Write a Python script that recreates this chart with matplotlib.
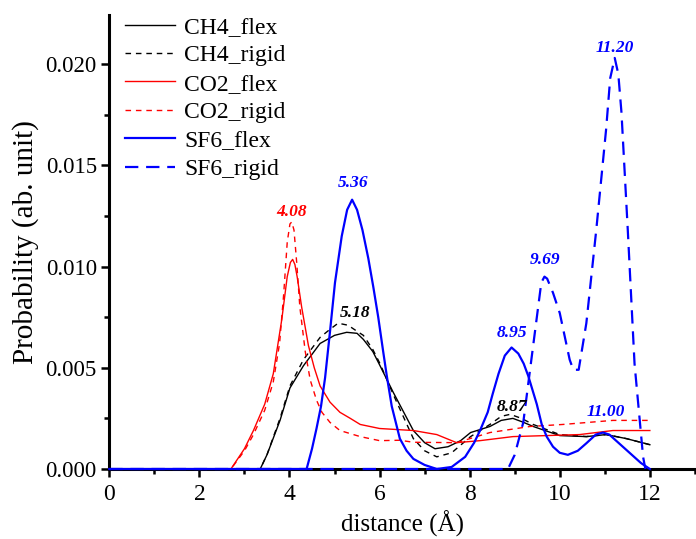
import matplotlib
matplotlib.use("Agg")
import matplotlib.pyplot as plt
from matplotlib.ticker import MultipleLocator, FormatStrFormatter

plt.rcParams['font.family'] = ['Liberation Serif', 'DejaVu Serif']

# data
ch4_flex_x = [0, 3.35, 3.5, 3.79, 4.01, 4.31, 4.68, 5.0, 5.27, 5.5, 5.64, 5.85, 6.01, 6.3,
              6.75, 7.0, 7.23, 7.52, 7.8, 8.02, 8.45, 8.7, 8.96, 9.2, 9.41, 10.0, 10.59,
              11.03, 11.48, 12.0]
ch4_flex_y = [0, 0, 0.0007, 0.0024, 0.0040, 0.0051, 0.0062, 0.0066, 0.00675, 0.0067, 0.0064,
              0.0058, 0.0051, 0.0038, 0.0019, 0.0013, 0.0010, 0.0011, 0.0014, 0.0018, 0.0021,
              0.0024, 0.0025, 0.0023, 0.0021, 0.00165, 0.0016, 0.0017, 0.0015, 0.0012]

ch4_rigid_x = [0, 3.35, 3.5, 3.79, 4.01, 4.31, 4.68, 4.9, 5.08, 5.3, 5.5, 5.64, 5.85, 6.01,
               6.3, 6.75, 7.0, 7.27, 7.6, 8.02, 8.45, 8.7, 8.9, 9.15, 9.41, 10.0, 10.59,
               11.03, 11.48, 12.0]
ch4_rigid_y = [0, 0, 0.0007, 0.0025, 0.0041, 0.0054, 0.0065, 0.0069, 0.0072, 0.0071, 0.0068,
               0.0066, 0.0059, 0.0052, 0.0037, 0.0015, 0.0009, 0.0006, 0.0008, 0.0016, 0.0022,
               0.0026, 0.0027, 0.0025, 0.0022, 0.0017, 0.0016, 0.0017, 0.0015, 0.0012]

co2_flex_x = [0, 2.7, 3.0, 3.2, 3.45, 3.64, 3.83, 3.95, 4.02, 4.07, 4.12, 4.17, 4.27, 4.42,
              4.55, 4.68, 4.9, 5.12, 5.35, 5.57, 6.0, 6.75, 7.27, 7.71, 8.23, 8.96, 9.7,
              10.44, 11.18, 12.0]
co2_flex_y = [0, 0, 0.0010, 0.0019, 0.0032, 0.0047, 0.0074, 0.0095, 0.0102, 0.01035, 0.0101,
              0.0095, 0.0080, 0.0061, 0.0050, 0.0041, 0.0033, 0.0028, 0.0025, 0.0022, 0.0020,
              0.0019, 0.0017, 0.0013, 0.0014, 0.0016, 0.00165, 0.0017, 0.0019, 0.0019]

co2_rigid_x = [0, 2.7, 3.0, 3.2, 3.45, 3.64, 3.78, 3.87, 3.95, 4.01, 4.05, 4.1, 4.16, 4.23,
               4.35, 4.46, 4.6, 4.72, 4.9, 5.12, 5.57, 6.0, 6.45, 6.75, 7.71, 8.45, 9.34,
               10.07, 11.18, 12.0]
co2_rigid_y = [0, 0, 0.0009, 0.0017, 0.0029, 0.0043, 0.0062, 0.0086, 0.0112, 0.0121, 0.0122,
               0.0118, 0.0102, 0.0080, 0.0058, 0.0044, 0.0034, 0.0028, 0.0023, 0.0019, 0.0016,
               0.0014, 0.00142, 0.00132, 0.0013, 0.0018, 0.0021, 0.0022, 0.0024, 0.0024]

sf6_flex_x = [0, 4.38, 4.5, 4.6, 4.7, 4.79, 4.9, 5.01, 5.16, 5.28, 5.39, 5.5, 5.62, 5.75,
              5.86, 5.97, 6.08, 6.16, 6.27, 6.45, 6.6, 6.75, 7.0, 7.27, 7.6, 7.9, 8.1, 8.23,
              8.4, 8.51, 8.64, 8.78, 8.93, 9.08, 9.2, 9.3, 9.49, 9.6, 9.71, 9.85, 10.0, 10.18,
              10.4, 10.59, 10.8, 10.96, 11.1, 11.25, 11.4, 11.6, 11.8, 12.0]
sf6_flex_y = [0, 0, 0.0010, 0.0020, 0.0031, 0.0045, 0.0068, 0.0092, 0.0115, 0.0128, 0.0133,
              0.0128, 0.0118, 0.0104, 0.0090, 0.0075, 0.0058, 0.0046, 0.0031, 0.0015, 0.0009,
              0.0005, 0.0002, 0.0, 0.0001, 0.0006, 0.0013, 0.0019, 0.0028, 0.0037, 0.0047,
              0.0056, 0.0060, 0.0057, 0.0052, 0.0046, 0.0032, 0.0022, 0.0016, 0.0011, 0.0008,
              0.0007, 0.0009, 0.00127, 0.0017, 0.0018, 0.0017, 0.0014, 0.0011, 0.0007, 0.0003,
              0.0]

sf6_rigid_x = [0, 8.85, 9.0, 9.19, 9.41, 9.59, 9.66, 9.72, 9.85, 10.0, 10.22, 10.3, 10.42,
               10.59, 10.81, 11.03, 11.12, 11.22, 11.3, 11.37, 11.51, 11.66, 11.85, 11.9]
sf6_rigid_y = [0, 0, 0.0007, 0.0023, 0.0061, 0.0092, 0.0095, 0.0094, 0.0087, 0.0077, 0.0054,
               0.0049, 0.0049, 0.0072, 0.0118, 0.0168, 0.0193, 0.0203, 0.0195, 0.0176, 0.0118,
               0.0052, 0.0006, 0.0]

peak_labels = ["4.08", "5.36", "5.18", "8.95", "8.87", "9.69", "11.20", "11.00"]
peak_x = [4.05, 5.42, 5.45, 8.93, 8.93, 9.67, 11.23, 11.03]
peak_y = [0.0127, 0.0141, 0.00772, 0.0067, 0.00305, 0.01032, 0.02079, 0.00283]
peak_colors = ["#ff0000", "#0000ff", "black", "#0000ff", "black", "#0000ff", "#0000ff", "#0000ff"]

fig = plt.figure(figsize=(6.96, 5.39), dpi=100)
ax = fig.add_axes([109.3 / 696, 70 / 539, 585.6 / 696, 454 / 539])

thin = 1.0
thick = 1.6
ax.plot(ch4_flex_x, ch4_flex_y, color='black', lw=thin, label='CH4_flex', clip_on=False, zorder=3)
ax.plot(ch4_rigid_x, ch4_rigid_y, color='black', lw=thin, dashes=(4, 3.5), label='CH4_rigid',
        clip_on=False, zorder=3)
ax.plot(co2_flex_x, co2_flex_y, color='#ff0000', lw=thin, label='CO2_flex', clip_on=False, zorder=3)
ax.plot(co2_rigid_x, co2_rigid_y, color='#ff0000', lw=thin, dashes=(4, 3.5), label='CO2_rigid',
        clip_on=False, zorder=3)
ax.plot(sf6_flex_x, sf6_flex_y, color='#0000ff', lw=thick, label='SF6_flex', clip_on=False, zorder=3)
ax.plot(sf6_rigid_x, sf6_rigid_y, color='#0000ff', lw=thick, dashes=(6, 3.5), label='SF6_rigid',
        clip_on=False, zorder=3)

for lab, px, py, c in zip(peak_labels, peak_x, peak_y, peak_colors):
    ax.text(px, py, lab, color=c, fontsize=12.5, fontweight='bold', style='italic',
            ha='center', va='center')

ax.set_xlim(0, 13)
ax.set_ylim(0, 0.02242)
ax.xaxis.set_major_locator(MultipleLocator(2))
ax.xaxis.set_minor_locator(MultipleLocator(1))
ax.yaxis.set_major_locator(MultipleLocator(0.005))
ax.yaxis.set_minor_locator(MultipleLocator(0.0025))
ax.yaxis.set_major_formatter(FormatStrFormatter('%.3f'))

ax.spines['top'].set_visible(False)
ax.spines['right'].set_visible(False)
ax.spines['left'].set_linewidth(2.2)
ax.spines['bottom'].set_linewidth(2.2)
ax.tick_params(which='major', direction='out', length=6, width=1.8)
ax.tick_params(which='minor', direction='out', length=3.5, width=1.8)
ax.tick_params(axis='x', labelsize=17, pad=5)
ax.tick_params(axis='y', labelsize=16.5, pad=3)

ax.set_xlabel('distance (Å)', fontsize=18, labelpad=4)
ax.set_ylabel('Probability (ab. unit)', fontsize=21, labelpad=5)

ax.legend(loc='upper left', bbox_to_anchor=(0.027, 0.997), frameon=False, fontsize=17,
          handlelength=2.1, handletextpad=0.4, labelspacing=0.29, borderpad=0, borderaxespad=0)

fig.savefig('out.png', dpi=100)
